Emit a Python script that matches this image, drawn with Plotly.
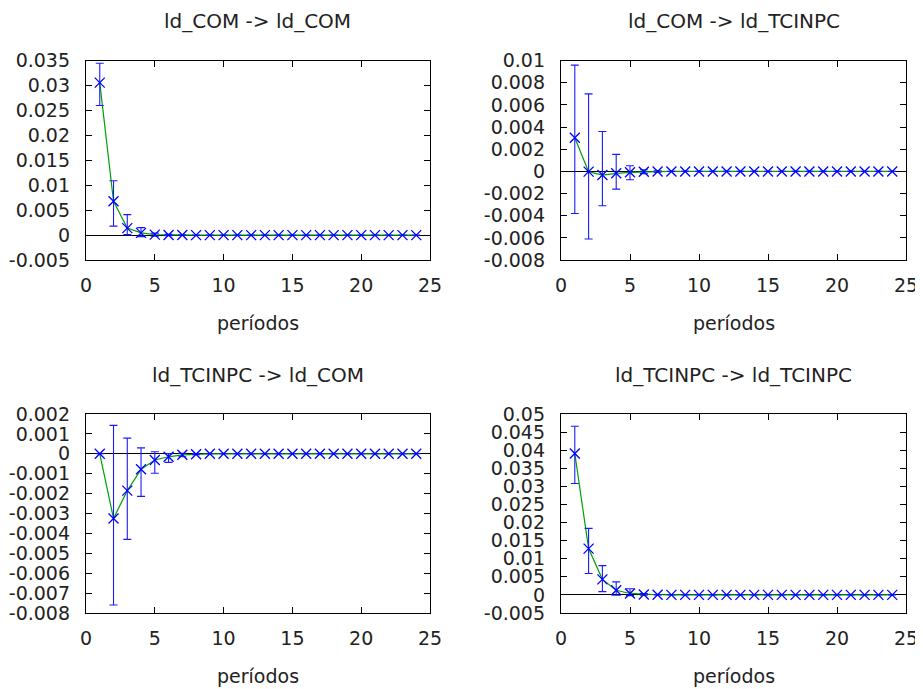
import plotly.graph_objects as go

periods = list(range(1, 25))

titles = ["ld_COM -> ld_COM", "ld_COM -> ld_TCINPC",
          "ld_TCINPC -> ld_COM", "ld_TCINPC -> ld_TCINPC"]
xlabel = "períodos"

com_com = [0.0306, 0.0068, 0.0014, 0.00045, 0.0001, 0.00003, 0.00001] + [0.0] * 17
com_com_lo = [0.0260, 0.0018, 0.0001, -0.0003, -0.0002, -0.0001, -0.00004] + [0.0] * 17
com_com_hi = [0.0345, 0.0109, 0.0041, 0.0015, 0.0004, 0.00015, 0.00005] + [0.0] * 17

com_tc = [0.00304, -0.00002, -0.00033, -0.00017, -0.00008, -0.00003, -0.00001] + [0.0] * 17
com_tc_lo = [-0.0038, -0.0061, -0.0031, -0.0016, -0.00075, -0.0002, -0.00008] + [0.0] * 17
com_tc_hi = [0.0096, 0.0070, 0.0036, 0.00154, 0.00051, 0.00015, 0.00006] + [0.0] * 17

tc_com = [0.0, -0.00325, -0.00185, -0.00078, -0.00031, -0.00015, -0.00005, -0.00002] + [0.0] * 16
tc_com_lo = [0.0, -0.0076, -0.0043, -0.00214, -0.00098, -0.00043, -0.00015, -0.00005] + [0.0] * 16
tc_com_hi = [0.0, 0.00143, 0.00079, 0.0003, 0.0001, 0.00001, 0.00002, 0.00001] + [0.0] * 16

tc_tc = [0.0391, 0.0128, 0.0043, 0.0013, 0.0004, 0.00012, 0.00004, 0.00001] + [0.0] * 16
tc_tc_lo = [0.0308, 0.0059, 0.0009, -0.0001, -0.0002, -0.0001, -0.00003, -0.00001] + [0.0] * 16
tc_tc_hi = [0.0466, 0.0184, 0.0081, 0.0036, 0.0017, 0.0004, 0.0001, 0.00003] + [0.0] * 16

x_ticks = [0, 5, 10, 15, 20, 25]

y_ticks_1 = [-0.005, 0, 0.005, 0.01, 0.015, 0.02, 0.025, 0.03, 0.035]
y_text_1 = ["-0.005", "0", "0.005", "0.01", "0.015", "0.02", "0.025", "0.03", "0.035"]
y_ticks_2 = [-0.008, -0.006, -0.004, -0.002, 0, 0.002, 0.004, 0.006, 0.008, 0.01]
y_text_2 = ["-0.008", "-0.006", "-0.004", "-0.002", "0", "0.002", "0.004", "0.006", "0.008", "0.01"]
y_ticks_3 = [-0.008, -0.007, -0.006, -0.005, -0.004, -0.003, -0.002, -0.001, 0, 0.001, 0.002]
y_text_3 = ["-0.008", "-0.007", "-0.006", "-0.005", "-0.004", "-0.003", "-0.002", "-0.001", "0", "0.001", "0.002"]
y_ticks_4 = [-0.005, 0, 0.005, 0.01, 0.015, 0.02, 0.025, 0.03, 0.035, 0.04, 0.045, 0.05]
y_text_4 = ["-0.005", "0", "0.005", "0.01", "0.015", "0.02", "0.025", "0.03", "0.035", "0.04", "0.045", "0.05"]

panels = [
    (com_com, com_com_lo, com_com_hi, y_ticks_1, y_text_1),
    (com_tc, com_tc_lo, com_tc_hi, y_ticks_2, y_text_2),
    (tc_com, tc_com_lo, tc_com_hi, y_ticks_3, y_text_3),
    (tc_tc, tc_tc_lo, tc_tc_hi, y_ticks_4, y_text_4),
]

# page body has an 8px margin; the figure is drawn from (8, 8)
OFF = 8
W, H = 923 - OFF, 689 - OFF


def px(x):
    return (x - OFF) / W


def py(y):
    return 1 - (y - OFF) / H


xdoms = [[px(86), px(430)], [px(561), px(906)]]
ydoms = [[py(260), py(60.7)], [py(613), py(414)]]

FONT = "DejaVu Sans"
fig = go.Figure()
annotations = []
layout = {}
for i, (vals, lo, hi, yt, ytxt) in enumerate(panels):
    r, c = divmod(i, 2)
    sfx = "" if i == 0 else str(i + 1)
    xa, ya = "x" + sfx, "y" + sfx
    plus = [h - v for h, v in zip(hi, vals)]
    minus = [v - l for v, l in zip(vals, lo)]
    fig.add_trace(go.Scatter(
        x=periods, y=vals, mode="lines", xaxis=xa, yaxis=ya,
        line=dict(color="#00a000", width=1.2), showlegend=False, hoverinfo="skip"))
    fig.add_trace(go.Scatter(
        x=periods, y=vals, mode="markers", xaxis=xa, yaxis=ya,
        marker=dict(symbol="x-thin", size=10, line=dict(color="#0000ff", width=1.3), color="#0000ff"),
        error_y=dict(type="data", symmetric=False, array=plus, arrayminus=minus,
                     color="#1a1aff", thickness=1.1, width=4),
        showlegend=False))
    axis_common = dict(showline=True, linecolor="black", linewidth=1.3, mirror="ticks",
                       ticks="inside", ticklen=6, tickcolor="black", tickwidth=1,
                       showgrid=False, automargin=False,
                       tickfont=dict(family=FONT, size=19, color="#222"))
    layout["xaxis" + sfx] = dict(axis_common, domain=xdoms[c], range=[0, 25], tickvals=x_ticks,
                                 zeroline=False, anchor=ya, ticklabelstandoff=8)
    layout["yaxis" + sfx] = dict(axis_common, domain=ydoms[r], range=[yt[0], yt[-1]],
                                 tickvals=yt, ticktext=ytxt, zeroline=True, zerolinecolor="black",
                                 zerolinewidth=1, anchor=xa, ticklabelstandoff=11)
    xc = (xdoms[c][0] + xdoms[c][1]) / 2
    ytop = ydoms[r][1]
    ybot = ydoms[r][0]
    annotations.append(dict(text=titles[i], x=xc, y=ytop + 39.5 / H, xref="paper", yref="paper",
                            xanchor="center", yanchor="middle",
                            showarrow=False, font=dict(family=FONT, size=20, color="#222")))
    annotations.append(dict(text=xlabel, x=xc, y=ybot - 63 / H, xref="paper", yref="paper",
                            xanchor="center", yanchor="middle",
                            showarrow=False, font=dict(family=FONT, size=19, color="#222")))

fig.update_layout(width=W, height=H, margin=dict(l=0, r=0, t=0, b=0, autoexpand=False),
                  paper_bgcolor="white", plot_bgcolor="white",
                  annotations=annotations, **layout)
fig.write_html("out.html")
